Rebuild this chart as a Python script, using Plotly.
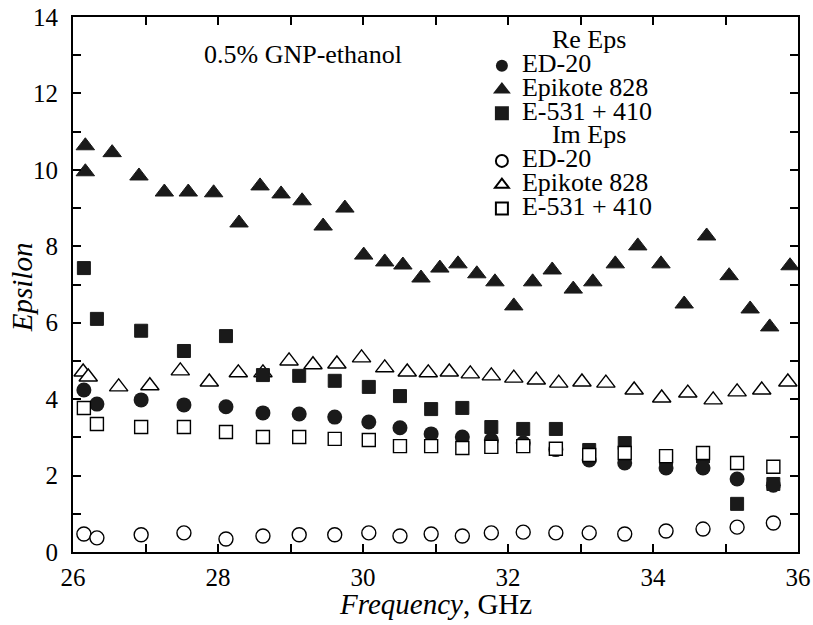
import plotly.graph_objects as go

# ---------------- data ----------------
freq_ed = [26.15, 26.33, 26.94, 27.53, 28.11, 28.62, 29.12, 29.61, 30.08, 30.51, 30.94,
           31.37, 31.77, 32.21, 32.66, 33.12, 33.61, 34.18, 34.69, 35.16, 35.66]

re_ed20 = [4.24, 3.87, 3.98, 3.85, 3.80, 3.64, 3.61, 3.53, 3.40, 3.25, 3.09,
           3.01, 2.93, 2.85, 2.68, 2.41, 2.33, 2.20, 2.20, 1.91, 1.75]
im_ed20 = [0.47, 0.37, 0.45, 0.50, 0.34, 0.42, 0.45, 0.45, 0.50, 0.42, 0.47,
           0.42, 0.50, 0.52, 0.50, 0.50, 0.47, 0.55, 0.60, 0.65, 0.76]

re_e531 = [7.43, 6.10, 5.79, 5.26, 5.65, 4.63, 4.61, 4.48, 4.32, 4.08, 3.74,
           3.77, 3.27, 3.22, 3.22, 2.67, 2.85, 2.45, 2.50, 1.26, 1.78]
im_e531 = [3.77, 3.35, 3.27, 3.27, 3.14, 3.01, 3.01, 2.96, 2.93, 2.77, 2.77,
           2.72, 2.75, 2.77, 2.70, 2.54, 2.59, 2.51, 2.59, 2.33, 2.23]

freq_re_epi = [26.17, 26.17, 26.54, 26.91, 27.26, 27.59, 27.94, 28.29, 28.58, 28.87,
               29.16, 29.45, 29.75, 30.01, 30.30, 30.55, 30.80, 31.06, 31.31, 31.57,
               31.82, 32.08, 32.34, 32.61, 32.90, 33.17, 33.48, 33.79, 34.11, 34.43,
               34.74, 35.05, 35.34, 35.61, 35.89]
re_epikote = [10.63, 9.95, 10.45, 9.84, 9.42, 9.42, 9.40, 8.61, 9.58, 9.37,
              9.19, 8.53, 9.00, 7.77, 7.59, 7.51, 7.17, 7.43, 7.54, 7.28,
              7.07, 6.44, 7.07, 7.38, 6.88, 7.07, 7.54, 8.01, 7.54, 6.49,
              8.27, 7.23, 6.36, 5.89, 7.49]

freq_im_epi = [26.14, 26.21, 26.63, 27.06, 27.48, 27.88, 28.28, 28.62, 28.98, 29.31,
               29.64, 29.98, 30.30, 30.61, 30.90, 31.19, 31.48, 31.77, 32.08, 32.39,
               32.70, 33.02, 33.35, 33.74, 34.12, 34.48, 34.83, 35.16, 35.50, 35.86]
im_epikote = [4.71, 4.58, 4.32, 4.35, 4.74, 4.45, 4.69, 4.69, 5.00, 4.90,
              4.92, 5.08, 4.82, 4.71, 4.69, 4.71, 4.66, 4.61, 4.55, 4.50,
              4.42, 4.45, 4.42, 4.24, 4.03, 4.16, 3.98, 4.19, 4.24, 4.45]

x_ticks = [26, 28, 30, 32, 34, 36]
x_ticklabels = ["26", "28", "30", "32", "34", "36"]
y_ticks = [0, 2, 4, 6, 8, 10, 12, 14]
y_ticklabels = ["0", "2", "4", "6", "8", "10", "12", "14"]

FONT = "Liberation Serif"
BIG = 26
NB = "\u00a0"


def lbl(t):
    return f"<span style='font-size:{BIG}px'>{t}</span>"


def group_title(t):
    return dict(text=lbl(NB * 10 + t), font=dict(size=16, family=FONT, color="black"))


fig = go.Figure()

# draw order chosen to reproduce overlaps in the reference
fig.add_trace(go.Scatter(
    x=freq_ed, y=im_ed20, mode="markers", name=lbl("ED-20"),
    legendgroup="im", legendgrouptitle=group_title("Im Eps"), legendrank=4,
    marker=dict(symbol="circle", size=14, color="white", line=dict(color="black", width=1.4))))
fig.add_trace(go.Scatter(
    x=freq_im_epi, y=im_epikote, mode="markers", name=lbl("Epikote 828"),
    legendgroup="im", legendrank=5,
    marker=dict(symbol="triangle-up", size=16, color="white", line=dict(color="black", width=1.4))))
fig.add_trace(go.Scatter(
    x=freq_re_epi, y=re_epikote, mode="markers", name=lbl("Epikote 828"),
    legendgroup="re", legendrank=2,
    marker=dict(symbol="triangle-up", size=16, color="#1a1a1a", line=dict(color="#1a1a1a", width=1))))
fig.add_trace(go.Scatter(
    x=freq_ed, y=re_e531, mode="markers", name=lbl("E-531 + 410"),
    legendgroup="re", legendrank=3,
    marker=dict(symbol="square", size=13, color="#1a1a1a", line=dict(color="#1a1a1a", width=1))))
fig.add_trace(go.Scatter(
    x=freq_ed, y=re_ed20, mode="markers", name=lbl("ED-20"),
    legendgroup="re", legendgrouptitle=group_title("Re Eps"), legendrank=1,
    marker=dict(symbol="circle", size=15, color="#1a1a1a", line=dict(color="#1a1a1a", width=0))))
fig.add_trace(go.Scatter(
    x=freq_ed, y=im_e531, mode="markers", name=lbl("E-531 + 410"),
    legendgroup="im", legendrank=6,
    marker=dict(symbol="square", size=13, color="white", line=dict(color="black", width=1.4))))

axis_common = dict(
    showline=True, linecolor="black", linewidth=2, mirror="ticks",
    ticks="inside", ticklen=8, tickwidth=1.5, tickcolor="black",
    showgrid=False, zeroline=False, automargin=False,
    tickfont=dict(family=FONT, size=25, color="black"),
    minor=dict(ticks="inside", ticklen=8, tickwidth=1.5, tickcolor="black", dtick=1, showgrid=False),
)

fig.update_xaxes(range=[26, 36], tickvals=x_ticks, ticktext=x_ticklabels,
                 ticklabelstandoff=2, **axis_common)
fig.update_yaxes(range=[0, 14], tickvals=y_ticks, ticktext=y_ticklabels,
                 ticklabelstandoff=8, **axis_common)

fig.add_annotation(text="<i>Frequency</i>, GHz", xref="paper", yref="paper",
                   x=0.5, y=-0.097, xanchor="center", yanchor="middle", showarrow=False,
                   font=dict(family=FONT, size=29, color="black"))
fig.add_annotation(text="<i>Epsilon</i>", xref="paper", yref="paper", textangle=-90,
                   x=-0.0703, y=0.495, xanchor="center", yanchor="middle", showarrow=False,
                   font=dict(family=FONT, size=29, color="black"))
fig.add_annotation(text="0.5% GNP-ethanol", xref="paper", yref="paper",
                   x=0.178, y=0.929, xanchor="left", yanchor="middle", showarrow=False,
                   font=dict(family=FONT, size=BIG, color="black"))

fig.update_layout(
    width=813, height=625,
    margin=dict(l=73, r=15, t=17, b=73),
    paper_bgcolor="white", plot_bgcolor="white",
    font=dict(family=FONT, color="black"),
    showlegend=True,
    legend=dict(x=0.564, y=0.985, xanchor="left", yanchor="top",
                bgcolor="rgba(0,0,0,0)", borderwidth=0,
                font=dict(family=FONT, size=16, color="black"),
                itemsizing="constant", traceorder="grouped", tracegroupgap=0),
)

fig.write_html("out.html",
               config={"displayModeBar": False},
               post_script="document.body.style.margin='0px';document.body.style.overflow='hidden';")
